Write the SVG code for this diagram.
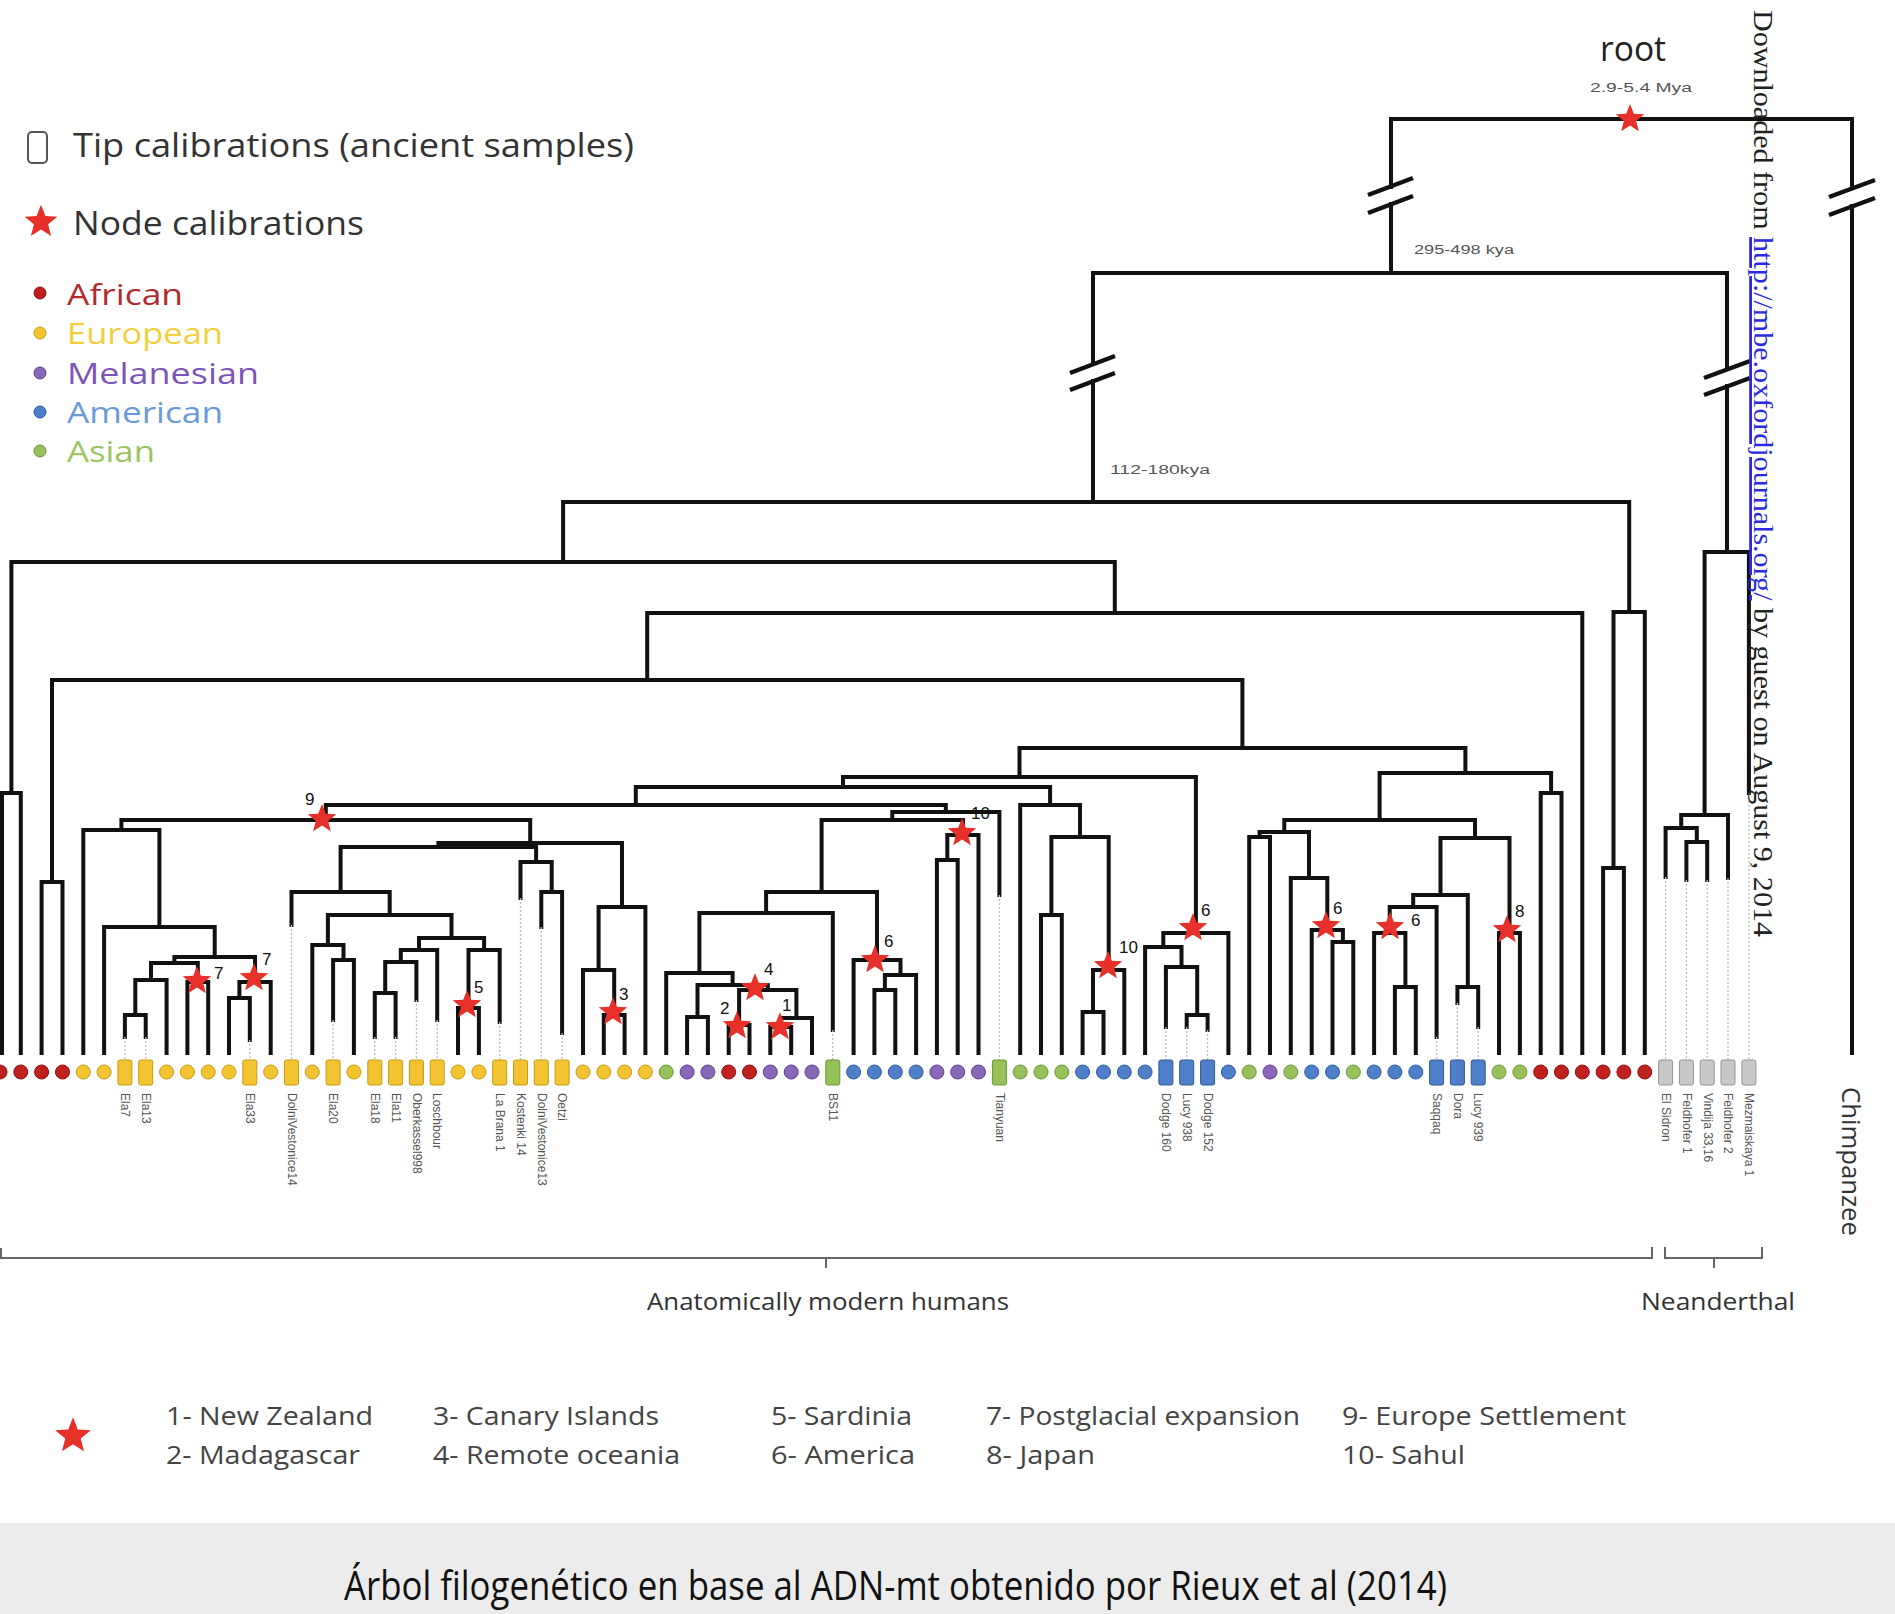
<svg xmlns="http://www.w3.org/2000/svg" width="1895" height="1614" viewBox="0 0 1895 1614">
<style>
.br{fill:none;stroke:#111;stroke-width:4;stroke-linejoin:miter;stroke-linecap:square}
.dot{fill:none;stroke:#bdbdbd;stroke-width:1.3;stroke-dasharray:2 2}
.af{fill:#c0201e;stroke:#8a1010;stroke-width:1}
.eu{fill:#f3c432;stroke:#c79a10;stroke-width:1}
.me{fill:#8a68b8;stroke:#5a4090;stroke-width:1}
.am{fill:#4f7fc8;stroke:#2f5a9a;stroke-width:1}
.as{fill:#95c05a;stroke:#6a9a30;stroke-width:1}
.ne{fill:#c8c8c8;stroke:#959595;stroke-width:1}
.tl{font-family:"Liberation Sans",Arial,sans-serif;font-size:12px;fill:#555}
.sl{font-family:"Liberation Sans",Arial,sans-serif;font-size:17px;fill:#111}
.lg{font-family:"Open Sans","Liberation Sans",sans-serif}
.bl{font-family:"Open Sans","Liberation Sans",sans-serif;font-size:26px;fill:#444}
.brk{fill:none;stroke:#111;stroke-width:4.5}
</style>
<defs>
<path id="star" d="M0,-15 L3.82,-5.26 14.27,-4.64 6.18,2.01 8.82,12.14 0,6.5 -8.82,12.14 -6.18,2.01 -14.27,-4.64 -3.82,-5.26Z" fill="#e8302a"/>
</defs>
<rect width="1895" height="1614" fill="#ffffff"/>

<!-- legend -->
<g id="legend">
<rect x="28" y="132" width="19" height="31" rx="4" fill="#fff" stroke="#555" stroke-width="2"/>
<text class="lg" x="73" y="157" font-size="32" fill="#333" textLength="561" lengthAdjust="spacingAndGlyphs">Tip calibrations (ancient samples)</text>
<use href="#star" transform="translate(41,222) scale(1.15)"/>
<text class="lg" x="73" y="235" font-size="32" fill="#333" textLength="291" lengthAdjust="spacingAndGlyphs">Node calibrations</text>
<circle cx="40" cy="293" r="6" class="af"/>
<circle cx="40" cy="333" r="6" class="eu"/>
<circle cx="40" cy="373" r="6" class="me"/>
<circle cx="40" cy="412" r="6" class="am"/>
<circle cx="40" cy="451" r="6" class="as"/>
<text class="lg" x="67" y="305" font-size="29" fill="#b22a2e" textLength="116" lengthAdjust="spacingAndGlyphs">African</text>
<text class="lg" x="67" y="344" font-size="29" fill="#f2cf3e" textLength="156" lengthAdjust="spacingAndGlyphs">European</text>
<text class="lg" x="67" y="384" font-size="29" fill="#7d55b8" textLength="192" lengthAdjust="spacingAndGlyphs">Melanesian</text>
<text class="lg" x="67" y="423" font-size="29" fill="#6a9ad8" textLength="156" lengthAdjust="spacingAndGlyphs">American</text>
<text class="lg" x="67" y="462" font-size="29" fill="#9cc462" textLength="88" lengthAdjust="spacingAndGlyphs">Asian</text>
</g>

<!-- top labels -->
<g id="toplabels">
<text class="lg" x="1600" y="61" font-size="34" fill="#222" textLength="66" lengthAdjust="spacingAndGlyphs">root</text>
<text class="tl" x="1590" y="92" font-size="13" fill="#333" textLength="102" lengthAdjust="spacingAndGlyphs">2.9-5.4 Mya</text>
<text class="tl" x="1414" y="254" font-size="13" fill="#333" textLength="100" lengthAdjust="spacingAndGlyphs">295-498 kya</text>
<text class="tl" x="1110" y="474" font-size="14" fill="#333" textLength="100" lengthAdjust="spacingAndGlyphs">112-180kya</text>
</g>

<!-- connectors -->
<g id="connectors">
<path class="br" d="M1391,119 H1852"/>
<path class="br" d="M1391,119 V187 M1391,204 V273"/>
<path class="br" d="M1852,119 V188 M1852,206 V1053"/>
<path class="br" d="M1093,273 H1727"/>
<path class="br" d="M1093,273 V364 M1093,381 V502"/>
<path class="br" d="M1727,273 V369 M1727,386 V552"/>
<path class="brk" d="M1368,195 L1413,178 M1368,213 L1413,196"/>
<path class="brk" d="M1829,197 L1875,180 M1829,215 L1875,198"/>
<path class="brk" d="M1070,373 L1115,356 M1070,390 L1115,373"/>
<path class="brk" d="M1704,378 L1750,361 M1704,395 L1750,378"/>

<path class="br" d="M563.1,562 V502 H1629.2 V612"/>
<path class="br" d="M11.4,793 V562 H1114.8 V613"/>
<path class="br" d="M647.2,680 V613 H1582.3 V1053"/>
<path class="br" d="M52,882 V680 H1242.4 V748"/>
<path class="br" d="M1613.5,868 V612 H1644.8 V1053"/>
<path class="br" d="M1603.1,1053 V868 H1623.9 V1053"/>
<path class="br" d="M2,1053 V793 H20.8 V1053"/>
<path class="br" d="M41.6,1053 V882 H62.5 V1053"/>
<path class="br" d="M1019.5,777 V748 H1465.4 V773"/>
<path class="br" d="M843,787 V777 H1195.9 V933"/>
<path class="br" d="M1379.6,820 V773 H1551.1 V793"/>
<path class="br" d="M1540.7,1053 V793 H1561.5 V1053"/>
<path class="br" d="M635.8,805 V787 H1050.1 V805"/>
<path class="br" d="M325.8,820 V805 H945.8 V812"/>
<path class="br" d="M121.4,830 V820 H530.2 V843"/>
<path class="br" d="M83.3,1053 V830 H159.4 V927"/>
<path class="br" d="M104.1,1053 V927 H214.7 V957"/>
<path class="br" d="M174.4,963 V957 H255 V982"/>
<path class="br" d="M151,980 V963 H197.8 V982"/>
<path class="br" d="M135.3,1015 V980 H166.6 V1053"/>
<path class="br" d="M124.9,1037 V1015 H145.7 V1037"/>
<path class="br" d="M187.4,1053 V982 H208.2 V1053"/>
<path class="br" d="M239.4,998 V982 H270.7 V1053"/>
<path class="br" d="M229,1053 V998 H249.8 V1040"/>
<path class="br" d="M438.4,847 V843 H622 V907"/>
<path class="br" d="M340.6,892 V847 H536.1 V862"/>
<path class="br" d="M291.5,925 V892 H389.7 V915"/>
<path class="br" d="M327.9,945 V915 H451.5 V938"/>
<path class="br" d="M312.3,1053 V945 H343.5 V960"/>
<path class="br" d="M333.1,1020 V960 H353.9 V1053"/>
<path class="br" d="M419,950 V938 H484.1 V950"/>
<path class="br" d="M400.8,962 V950 H437.2 V1020"/>
<path class="br" d="M385.2,993 V962 H416.4 V1000"/>
<path class="br" d="M374.8,1037 V993 H395.6 V1037"/>
<path class="br" d="M468.5,1008 V950 H499.7 V1022"/>
<path class="br" d="M458,1053 V1008 H478.9 V1053"/>
<path class="br" d="M520.5,898 V862 H551.7 V892"/>
<path class="br" d="M541.3,927 V892 H562.1 V1033"/>
<path class="br" d="M598.6,970 V907 H645.4 V1053"/>
<path class="br" d="M583,1053 V970 H614.2 V1015"/>
<path class="br" d="M603.8,1053 V1015 H624.6 V1053"/>
<path class="br" d="M892.3,820 V812 H999.4 V895"/>
<path class="br" d="M821.6,892 V820 H962.9 V835"/>
<path class="br" d="M947.3,860 V835 H978.5 V1053"/>
<path class="br" d="M936.9,1053 V860 H957.7 V1053"/>
<path class="br" d="M766.1,913 V892 H877 V960"/>
<path class="br" d="M699.4,973 V913 H832.8 V1030"/>
<path class="br" d="M666.2,1053 V973 H732.6 V985"/>
<path class="br" d="M697.5,1017 V985 H767.8 V990"/>
<path class="br" d="M687.1,1053 V1017 H707.9 V1053"/>
<path class="br" d="M739.1,1025 V990 H796.4 V1018"/>
<path class="br" d="M728.7,1053 V1025 H749.5 V1053"/>
<path class="br" d="M780.8,1027 V1018 H812 V1053"/>
<path class="br" d="M770.3,1053 V1027 H791.2 V1053"/>
<path class="br" d="M853.6,1053 V960 H900.5 V975"/>
<path class="br" d="M884.9,990 V975 H916.1 V1053"/>
<path class="br" d="M874.4,1053 V990 H895.3 V1053"/>
<path class="br" d="M1020.2,1053 V805 H1080 V837"/>
<path class="br" d="M1051.4,915 V837 H1108.7 V970"/>
<path class="br" d="M1041,1053 V915 H1061.8 V1053"/>
<path class="br" d="M1093,1012 V970 H1124.3 V1053"/>
<path class="br" d="M1082.6,1053 V1012 H1103.5 V1053"/>
<path class="br" d="M1163.3,947 V933 H1228.4 V1053"/>
<path class="br" d="M1145.1,1053 V947 H1181.5 V967"/>
<path class="br" d="M1165.9,1027 V967 H1197.2 V1015"/>
<path class="br" d="M1186.7,1027 V1015 H1207.6 V1030"/>
<path class="br" d="M1284.3,832 V820 H1475 V838"/>
<path class="br" d="M1259.6,837 V832 H1309 V878"/>
<path class="br" d="M1249.2,1053 V837 H1270 V1053"/>
<path class="br" d="M1290.8,1053 V878 H1327.3 V930"/>
<path class="br" d="M1311.7,1053 V930 H1342.9 V942"/>
<path class="br" d="M1332.5,1053 V942 H1353.3 V1053"/>
<path class="br" d="M1440.5,895 V838 H1509.5 V933"/>
<path class="br" d="M1499,1053 V933 H1519.9 V1053"/>
<path class="br" d="M1413.2,907 V895 H1467.8 V987"/>
<path class="br" d="M1457.4,1003 V987 H1478.2 V1027"/>
<path class="br" d="M1389.7,933 V907 H1436.6 V1037"/>
<path class="br" d="M1374.1,1053 V933 H1405.4 V987"/>
<path class="br" d="M1394.9,1053 V987 H1415.8 V1053"/>
<path class="br" d="M1704.6,815 V552 H1748.9 V793"/>
<path class="br" d="M1681.2,828 V815 H1728 V878"/>
<path class="br" d="M1665.6,877 V828 H1696.8 V842"/>
<path class="br" d="M1686.4,880 V842 H1707.2 V880"/>

<path class="dot" d="M124.9,1037 V1060 M145.7,1037 V1060 M249.8,1040 V1060 M291.5,925 V1060 M333.1,1020 V1060 M374.8,1037 V1060 M395.6,1037 V1060 M416.4,1000 V1060 M437.2,1020 V1060 M499.7,1022 V1060 M520.5,898 V1060 M541.3,927 V1060 M562.1,1033 V1060 M832.8,1030 V1060 M999.4,895 V1060 M1165.9,1027 V1060 M1186.7,1027 V1060 M1207.6,1030 V1060 M1436.6,1037 V1060 M1457.4,1003 V1060 M1478.2,1027 V1060 M1665.6,877 V1060 M1686.4,880 V1060 M1707.2,880 V1060 M1728,878 V1060 M1748.9,793 V1060"/>
</g>

<!-- node calibration stars -->
<g id="stars">
<use href="#star" x="1630" y="119"/>
<use href="#star" x="322" y="819"/><text class="sl" x="305" y="805">9</text>
<use href="#star" x="197" y="981"/><text class="sl" x="214" y="979">7</text>
<use href="#star" x="254" y="978"/><text class="sl" x="262" y="965">7</text>
<use href="#star" x="467" y="1005"/><text class="sl" x="474" y="993">5</text>
<use href="#star" x="613" y="1012"/><text class="sl" x="619" y="1000">3</text>
<use href="#star" x="755" y="988"/><text class="sl" x="764" y="975">4</text>
<use href="#star" x="737" y="1026"/><text class="sl" x="720" y="1014">2</text>
<use href="#star" x="780" y="1027"/><text class="sl" x="782" y="1011">1</text>
<use href="#star" x="875" y="960"/><text class="sl" x="884" y="947">6</text>
<use href="#star" x="962" y="833"/><text class="sl" x="971" y="819">10</text>
<use href="#star" x="1108" y="966"/><text class="sl" x="1119" y="953">10</text>
<use href="#star" x="1193" y="928"/><text class="sl" x="1201" y="916">6</text>
<use href="#star" x="1326" y="926"/><text class="sl" x="1333" y="914">6</text>
<use href="#star" x="1390" y="927"/><text class="sl" x="1411" y="926">6</text>
<use href="#star" x="1507" y="930"/><text class="sl" x="1515" y="917">8</text>
</g>

<!-- tips -->
<g id="tips">
<circle id="tip0" class="af" cx="0" cy="1072" r="7"/>
<circle id="tip1" class="af" cx="20.8" cy="1072" r="7"/>
<circle id="tip2" class="af" cx="41.6" cy="1072" r="7"/>
<circle id="tip3" class="af" cx="62.5" cy="1072" r="7"/>
<circle id="tip4" class="eu" cx="83.3" cy="1072" r="7"/>
<circle id="tip5" class="eu" cx="104.1" cy="1072" r="7"/>
<g id="tip6"><rect class="eu" x="117.9" y="1060" width="14" height="25" rx="2"/><text class="tl" transform="translate(121,1093) rotate(90)">Ela7</text></g>
<g id="tip7"><rect class="eu" x="138.7" y="1060" width="14" height="25" rx="2"/><text class="tl" transform="translate(142,1093) rotate(90)">Ela13</text></g>
<circle id="tip8" class="eu" cx="166.6" cy="1072" r="7"/>
<circle id="tip9" class="eu" cx="187.4" cy="1072" r="7"/>
<circle id="tip10" class="eu" cx="208.2" cy="1072" r="7"/>
<circle id="tip11" class="eu" cx="229" cy="1072" r="7"/>
<g id="tip12"><rect class="eu" x="242.8" y="1060" width="14" height="25" rx="2"/><text class="tl" transform="translate(246,1093) rotate(90)">Ela33</text></g>
<circle id="tip13" class="eu" cx="270.7" cy="1072" r="7"/>
<g id="tip14"><rect class="eu" x="284.5" y="1060" width="14" height="25" rx="2"/><text class="tl" transform="translate(287.5,1093) rotate(90)">DolniVestonice14</text></g>
<circle id="tip15" class="eu" cx="312.3" cy="1072" r="7"/>
<g id="tip16"><rect class="eu" x="326.1" y="1060" width="14" height="25" rx="2"/><text class="tl" transform="translate(329,1093) rotate(90)">Ela20</text></g>
<circle id="tip17" class="eu" cx="353.9" cy="1072" r="7"/>
<g id="tip18"><rect class="eu" x="367.8" y="1060" width="14" height="25" rx="2"/><text class="tl" transform="translate(371,1093) rotate(90)">Ela18</text></g>
<g id="tip19"><rect class="eu" x="388.6" y="1060" width="14" height="25" rx="2"/><text class="tl" transform="translate(392,1093) rotate(90)">Ela11</text></g>
<g id="tip20"><rect class="eu" x="409.4" y="1060" width="14" height="25" rx="2"/><text class="tl" transform="translate(412.5,1093) rotate(90)">Oberkassel998</text></g>
<g id="tip21"><rect class="eu" x="430.2" y="1060" width="14" height="25" rx="2"/><text class="tl" transform="translate(433,1093) rotate(90)">Loschbour</text></g>
<circle id="tip22" class="eu" cx="458" cy="1072" r="7"/>
<circle id="tip23" class="eu" cx="478.9" cy="1072" r="7"/>
<g id="tip24"><rect class="eu" x="492.7" y="1060" width="14" height="25" rx="2"/><text class="tl" transform="translate(496,1093) rotate(90)">La Brana 1</text></g>
<g id="tip25"><rect class="eu" x="513.5" y="1060" width="14" height="25" rx="2"/><text class="tl" transform="translate(516.5,1093) rotate(90)">Kostenki 14</text></g>
<g id="tip26"><rect class="eu" x="534.3" y="1060" width="14" height="25" rx="2"/><text class="tl" transform="translate(537.5,1093) rotate(90)">DolniVestonice13</text></g>
<g id="tip27"><rect class="eu" x="555.1" y="1060" width="14" height="25" rx="2"/><text class="tl" transform="translate(558,1093) rotate(90)">Oetzi</text></g>
<circle id="tip28" class="eu" cx="583" cy="1072" r="7"/>
<circle id="tip29" class="eu" cx="603.8" cy="1072" r="7"/>
<circle id="tip30" class="eu" cx="624.6" cy="1072" r="7"/>
<circle id="tip31" class="eu" cx="645.4" cy="1072" r="7"/>
<circle id="tip32" class="as" cx="666.2" cy="1072" r="7"/>
<circle id="tip33" class="me" cx="687.1" cy="1072" r="7"/>
<circle id="tip34" class="me" cx="707.9" cy="1072" r="7"/>
<circle id="tip35" class="af" cx="728.7" cy="1072" r="7"/>
<circle id="tip36" class="af" cx="749.5" cy="1072" r="7"/>
<circle id="tip37" class="me" cx="770.3" cy="1072" r="7"/>
<circle id="tip38" class="me" cx="791.2" cy="1072" r="7"/>
<circle id="tip39" class="me" cx="812" cy="1072" r="7"/>
<g id="tip40"><rect class="as" x="825.8" y="1060" width="14" height="25" rx="2"/><text class="tl" transform="translate(829,1093) rotate(90)">BS11</text></g>
<circle id="tip41" class="am" cx="853.6" cy="1072" r="7"/>
<circle id="tip42" class="am" cx="874.4" cy="1072" r="7"/>
<circle id="tip43" class="am" cx="895.3" cy="1072" r="7"/>
<circle id="tip44" class="am" cx="916.1" cy="1072" r="7"/>
<circle id="tip45" class="me" cx="936.9" cy="1072" r="7"/>
<circle id="tip46" class="me" cx="957.7" cy="1072" r="7"/>
<circle id="tip47" class="me" cx="978.5" cy="1072" r="7"/>
<g id="tip48"><rect class="as" x="992.4" y="1060" width="14" height="25" rx="2"/><text class="tl" transform="translate(995.5,1093) rotate(90)">Tianyuan</text></g>
<circle id="tip49" class="as" cx="1020.2" cy="1072" r="7"/>
<circle id="tip50" class="as" cx="1041" cy="1072" r="7"/>
<circle id="tip51" class="as" cx="1061.8" cy="1072" r="7"/>
<circle id="tip52" class="am" cx="1082.6" cy="1072" r="7"/>
<circle id="tip53" class="am" cx="1103.5" cy="1072" r="7"/>
<circle id="tip54" class="am" cx="1124.3" cy="1072" r="7"/>
<circle id="tip55" class="am" cx="1145.1" cy="1072" r="7"/>
<g id="tip56"><rect class="am" x="1158.9" y="1060" width="14" height="25" rx="2"/><text class="tl" transform="translate(1162,1093) rotate(90)">Dodge 160</text></g>
<g id="tip57"><rect class="am" x="1179.7" y="1060" width="14" height="25" rx="2"/><text class="tl" transform="translate(1183,1093) rotate(90)">Lucy 938</text></g>
<g id="tip58"><rect class="am" x="1200.6" y="1060" width="14" height="25" rx="2"/><text class="tl" transform="translate(1204,1093) rotate(90)">Dodge 152</text></g>
<circle id="tip59" class="am" cx="1228.4" cy="1072" r="7"/>
<circle id="tip60" class="as" cx="1249.2" cy="1072" r="7"/>
<circle id="tip61" class="me" cx="1270" cy="1072" r="7"/>
<circle id="tip62" class="as" cx="1290.8" cy="1072" r="7"/>
<circle id="tip63" class="am" cx="1311.7" cy="1072" r="7"/>
<circle id="tip64" class="am" cx="1332.5" cy="1072" r="7"/>
<circle id="tip65" class="as" cx="1353.3" cy="1072" r="7"/>
<circle id="tip66" class="am" cx="1374.1" cy="1072" r="7"/>
<circle id="tip67" class="am" cx="1394.9" cy="1072" r="7"/>
<circle id="tip68" class="am" cx="1415.8" cy="1072" r="7"/>
<g id="tip69"><rect class="am" x="1429.6" y="1060" width="14" height="25" rx="2"/><text class="tl" transform="translate(1433,1093) rotate(90)">Saqqaq</text></g>
<g id="tip70"><rect class="am" x="1450.4" y="1060" width="14" height="25" rx="2"/><text class="tl" transform="translate(1453.5,1093) rotate(90)">Dora</text></g>
<g id="tip71"><rect class="am" x="1471.2" y="1060" width="14" height="25" rx="2"/><text class="tl" transform="translate(1474,1093) rotate(90)">Lucy 939</text></g>
<circle id="tip72" class="as" cx="1499" cy="1072" r="7"/>
<circle id="tip73" class="as" cx="1519.9" cy="1072" r="7"/>
<circle id="tip74" class="af" cx="1540.7" cy="1072" r="7"/>
<circle id="tip75" class="af" cx="1561.5" cy="1072" r="7"/>
<circle id="tip76" class="af" cx="1582.3" cy="1072" r="7"/>
<circle id="tip77" class="af" cx="1603.1" cy="1072" r="7"/>
<circle id="tip78" class="af" cx="1623.9" cy="1072" r="7"/>
<circle id="tip79" class="af" cx="1644.8" cy="1072" r="7"/>
<g id="tip80"><rect class="ne" x="1658.6" y="1060" width="14" height="25" rx="2"/><text class="tl" transform="translate(1662,1093) rotate(90)">El Sidron</text></g>
<g id="tip81"><rect class="ne" x="1679.4" y="1060" width="14" height="25" rx="2"/><text class="tl" transform="translate(1683,1093) rotate(90)">Feldhofer 1</text></g>
<g id="tip82"><rect class="ne" x="1700.2" y="1060" width="14" height="25" rx="2"/><text class="tl" transform="translate(1703.5,1093) rotate(90)">Vindija 33,16</text></g>
<g id="tip83"><rect class="ne" x="1721" y="1060" width="14" height="25" rx="2"/><text class="tl" transform="translate(1724,1093) rotate(90)">Feldhofer 2</text></g>
<g id="tip84"><rect class="ne" x="1741.9" y="1060" width="14" height="25" rx="2"/><text class="tl" transform="translate(1745,1093) rotate(90)">Mezmaiskaya 1</text></g>
<g id="chimp"><text class="lg" transform="translate(1842,1087) rotate(90)" font-size="25" fill="#333" textLength="149" lengthAdjust="spacingAndGlyphs">Chimpanzee</text></g>
</g>

<!-- brackets -->
<g id="brackets">
<path d="M1,1248 V1258 H1652 V1247 M826,1258 V1268" fill="none" stroke="#666" stroke-width="2"/>
<path d="M1665,1247 V1258 H1762 V1247 M1714,1258 V1268" fill="none" stroke="#666" stroke-width="2"/>
<text class="lg" x="647" y="1310" font-size="24" fill="#333" textLength="362" lengthAdjust="spacingAndGlyphs">Anatomically modern humans</text>
<text class="lg" x="1641" y="1310" font-size="24" fill="#333" textLength="154" lengthAdjust="spacingAndGlyphs">Neanderthal</text>
</g>

<!-- calibration key -->
<g id="calkey">
<use href="#star" transform="translate(73,1436) scale(1.25)"/>
<text class="bl" x="166" y="1425" textLength="207" lengthAdjust="spacingAndGlyphs">1- New Zealand</text>
<text class="bl" x="166" y="1464" textLength="194" lengthAdjust="spacingAndGlyphs">2- Madagascar</text>
<text class="bl" x="433" y="1425" textLength="226" lengthAdjust="spacingAndGlyphs">3- Canary Islands</text>
<text class="bl" x="433" y="1464" textLength="247" lengthAdjust="spacingAndGlyphs">4- Remote oceania</text>
<text class="bl" x="771" y="1425" textLength="141" lengthAdjust="spacingAndGlyphs">5- Sardinia</text>
<text class="bl" x="771" y="1464" textLength="144" lengthAdjust="spacingAndGlyphs">6- America</text>
<text class="bl" x="986" y="1425" textLength="314" lengthAdjust="spacingAndGlyphs">7- Postglacial expansion</text>
<text class="bl" x="986" y="1464" textLength="109" lengthAdjust="spacingAndGlyphs">8- Japan</text>
<text class="bl" x="1342" y="1425" textLength="284" lengthAdjust="spacingAndGlyphs">9- Europe Settlement</text>
<text class="bl" x="1342" y="1464" textLength="123" lengthAdjust="spacingAndGlyphs">10- Sahul</text>
</g>

<!-- watermark -->
<g id="watermark">
<text transform="translate(1754,10) rotate(90)" font-family="'Liberation Serif','Times New Roman',serif" font-size="28" fill="#222" textLength="927" lengthAdjust="spacingAndGlyphs">Downloaded from <tspan fill="#2a2ae0" text-decoration="underline">http://mbe.oxfordjournals.org/</tspan> by guest on August 9, 2014</text>
</g>

<!-- caption -->
<g id="caption">
<rect x="0" y="1523" width="1895" height="91" fill="#ececec"/>
<text class="lg" x="344" y="1600" font-size="40" fill="#111" textLength="1103" lengthAdjust="spacingAndGlyphs">Árbol filogenético en base al ADN-mt obtenido por Rieux et al (2014)</text>
</g>
</svg>
